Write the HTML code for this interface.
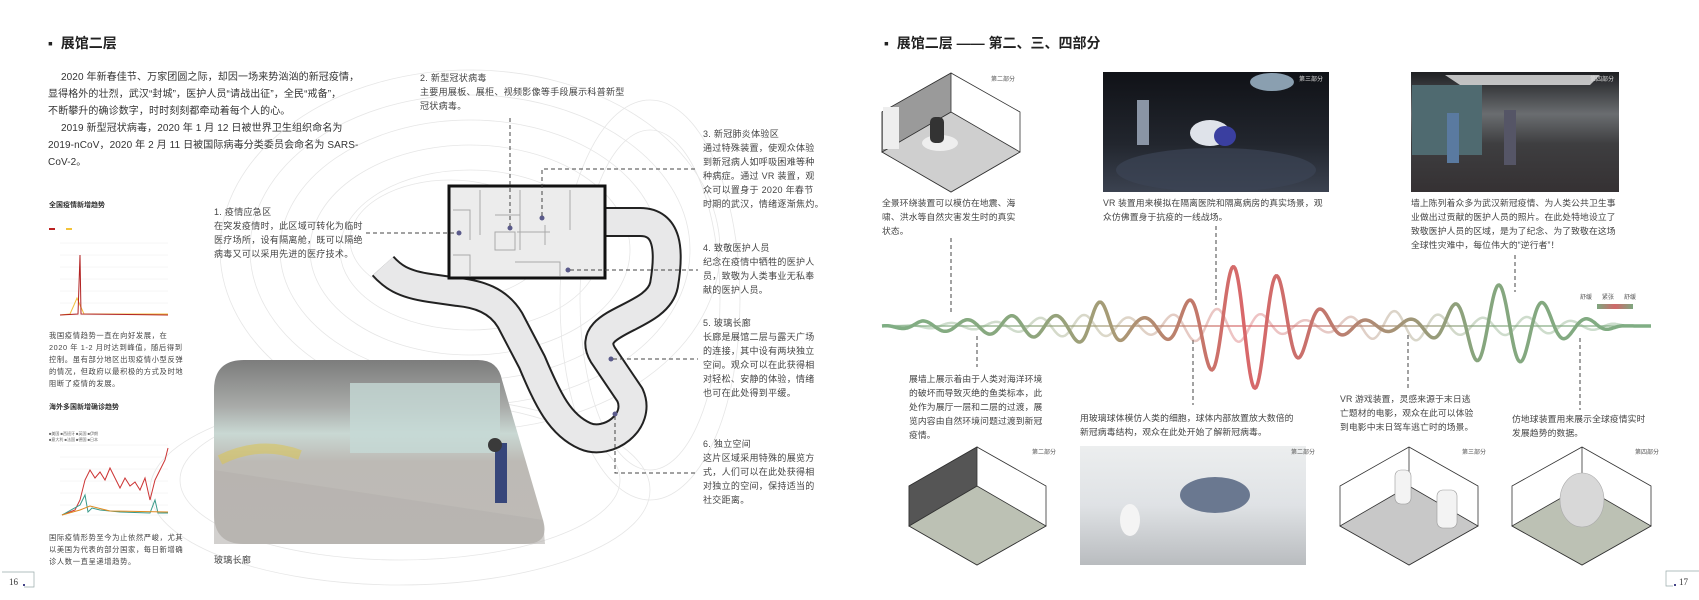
<!DOCTYPE html>
<html><head><meta charset="utf-8">
<style>
*{margin:0;padding:0;box-sizing:border-box}
body{width:1699px;height:600px;background:#fff;position:relative;overflow:hidden;font-family:"Liberation Sans","Noto Sans CJK SC",sans-serif;color:#333}
.t{position:absolute;white-space:nowrap}
.h{font-size:14px;font-weight:bold;color:#222}
.p{font-size:10px;line-height:17px;color:#333;letter-spacing:0.1px}
.s{font-size:9px;line-height:14px;color:#444;letter-spacing:0.3px}
.r{font-size:8.8px;line-height:14px;color:#444;letter-spacing:0.1px}
.xs{font-size:7.3px;line-height:12px;color:#444;letter-spacing:0.6px}
.lab{font-size:6px;color:#555}
svg{position:absolute;left:0;top:0}
</style></head><body>
<svg width="1699" height="600" viewBox="0 0 1699 600">
<defs>
<linearGradient id="wg" gradientUnits="userSpaceOnUse" x1="882" y1="0" x2="1651" y2="0">
<stop offset="0" stop-color="#7fae84"/><stop offset="0.18" stop-color="#8aa77e"/><stop offset="0.3" stop-color="#a89b76"/>
<stop offset="0.4" stop-color="#c07a6a"/><stop offset="0.47" stop-color="#d9676a"/><stop offset="0.55" stop-color="#c9706b"/>
<stop offset="0.66" stop-color="#a89276"/><stop offset="0.78" stop-color="#86a67e"/><stop offset="1" stop-color="#7fae84"/></linearGradient>
<linearGradient id="ph1" x1="0" y1="0" x2="0" y2="1">
<stop offset="0" stop-color="#7c7c7c"/><stop offset="0.25" stop-color="#a8aaa8"/><stop offset="0.4" stop-color="#c9d8d3"/><stop offset="0.55" stop-color="#bdbab5"/><stop offset="1" stop-color="#bebbb7"/></linearGradient>
<linearGradient id="ph2" x1="0" y1="0" x2="0" y2="1">
<stop offset="0" stop-color="#101217"/><stop offset="0.6" stop-color="#22262e"/><stop offset="1" stop-color="#3b4250"/></linearGradient>
<linearGradient id="ph3" x1="0" y1="0" x2="0" y2="1">
<stop offset="0" stop-color="#1e1f22"/><stop offset="0.35" stop-color="#6a6d70"/><stop offset="0.6" stop-color="#3e3e40"/><stop offset="1" stop-color="#353133"/></linearGradient>
<linearGradient id="ph4" x1="0" y1="0" x2="0" y2="1">
<stop offset="0" stop-color="#eceeef"/><stop offset="0.5" stop-color="#dfe2e5"/><stop offset="1" stop-color="#b9bcbf"/></linearGradient>
<linearGradient id="lg" x1="0" x2="1"><stop offset="0" stop-color="#7da77f"/><stop offset="0.5" stop-color="#d0686a"/><stop offset="1" stop-color="#7da77f"/></linearGradient>
</defs>
<!-- contour background -->
<g fill="none" stroke="#e6e6e6" stroke-width="0.8">
<ellipse cx="470" cy="250" rx="250" ry="180"/><ellipse cx="470" cy="250" rx="220" ry="155"/>
<ellipse cx="470" cy="250" rx="190" ry="130"/><ellipse cx="470" cy="250" rx="160" ry="105"/>
<ellipse cx="470" cy="250" rx="130" ry="80"/><ellipse cx="450" cy="240" rx="100" ry="60"/>
<ellipse cx="650" cy="300" rx="90" ry="200"/><ellipse cx="650" cy="300" rx="70" ry="170"/>
<ellipse cx="400" cy="480" rx="220" ry="80"/><ellipse cx="400" cy="490" rx="250" ry="95"/>
</g>
<!-- corridor -->
<path d="M606 222 L640 222 C668 222 670 250 664 285 C657 320 582 320 603 355 L630 395 C642 422 608 446 585 436 C560 425 548 400 532 362 L510 320 C498 300 478 294 458 292 L430 288 C402 284 392 276 383 266" fill="none" stroke="#222" stroke-width="30" stroke-linejoin="round"/>
<path d="M606 222 L640 222 C668 222 670 250 664 285 C657 320 582 320 603 355 L630 395 C642 422 608 446 585 436 C560 425 548 400 532 362 L510 320 C498 300 478 294 458 292 L430 288 C402 284 392 276 383 266" fill="none" stroke="#e8e8e9" stroke-width="26" stroke-linejoin="round"/>
<rect x="449" y="186" width="156" height="92" fill="#ececec" stroke="#111" stroke-width="3"/>
<g stroke="#aaa" stroke-width="1" fill="none">
<path d="M453 210 H470 V240 M480 190 V235 M520 190 V215 M570 190 V230 M495 215 H520 V250 M495 232 H515 V250 H495 Z M517 232 H550 M515 262 H560 V276 M545 225 V245 M453 255 H470 V276"/>
</g>
<g fill="#5a5a8a"><circle cx="459" cy="233" r="2.5"/><circle cx="510" cy="228" r="2.5"/><circle cx="542" cy="218" r="2.5"/><circle cx="568" cy="270" r="2.5"/><circle cx="611" cy="359" r="2.5"/><circle cx="615" cy="414" r="2.5"/></g>
<!-- dashed leaders -->
<g stroke="#444" stroke-width="1" stroke-dasharray="4,3" fill="none">
<path d="M366 233 H456"/><path d="M510 118 V226"/><path d="M542 216 V169 H698"/>
<path d="M570 270 H698"/><path d="M613 359 H698"/><path d="M615 416 V473 H698"/>
<path d="M951 238 V315"/><path d="M1216 226 V305"/><path d="M1515 255 V292"/>
<path d="M977 336 V367"/><path d="M1193 340 V405"/><path d="M1408 335 V388"/><path d="M1580 338 V410"/>
</g>
<!-- left photo -->
<path d="M244 360 L478 360 Q498 360 502 380 L543 520 Q550 544 525 544 L244 544 Q214 544 214 514 L214 390 Q214 360 244 360 Z" fill="url(#ph1)"/>
<path d="M214 470 L543 520 L545 544 L214 544 Z" fill="#b4b1ad" opacity="0.6"/>
<rect x="350" y="383" width="150" height="70" fill="#c6d9d6" opacity="0.8"/>
<path d="M220 460 Q260 440 300 455" stroke="#d9c45a" stroke-width="10" fill="none" opacity="0.6"/>
<rect x="495" y="443" width="12" height="60" fill="#37467a"/><circle cx="495" cy="445" r="7" fill="#3a3a3a"/>
<!-- charts -->
<g stroke="#eee" stroke-width="0.5"><path d="M60 243 H168 M60 255 H168 M60 267 H168 M60 279 H168 M60 291 H168 M60 303 H168 M60 315 H168"/>
<path d="M60 445 H168 M60 457 H168 M60 469 H168 M60 481 H168 M60 493 H168 M60 505 H168 M60 515 H168"/></g>
<rect x="49" y="228" width="6" height="2" fill="#b22"/><rect x="66" y="228" width="6" height="2" fill="#f3c33a"/>
<path d="M60 315 L70 314 L74 305 L77 298 L80 305 L84 314 L168 314" stroke="#f0c040" stroke-width="1" fill="none"/>
<path d="M60 315 L78 314 L80 255 L81 314 L168 315" stroke="#b22222" stroke-width="1" fill="none"/>
<path d="M62 515 L75 510 L80 500 L85 480 L90 470 L95 478 L100 472 L105 480 L110 468 L115 478 L120 488 L125 478 L130 486 L135 482 L140 490 L145 478 L150 500 L155 480 L160 470 L165 460 L168 448" stroke="#cc3333" stroke-width="1" fill="none"/>
<path d="M62 515 L80 505 L85 495 L88 512 L92 508 L100 510 L120 512 L150 513 L155 500 L158 513 L168 513" stroke="#3a9a8a" stroke-width="1" fill="none"/>
<path d="M62 515 L80 510 L90 506 L110 511 L168 512" stroke="#e08a20" stroke-width="1" fill="none"/>
<g font-size="4" fill="#666"><text x="49" y="435">■美国 ■西班牙 ■英国 ■伊朗</text><text x="49" y="441">■意大利 ■法国 ■德国 ■日本</text></g>
<!-- page number boxes -->
<path d="M2 572 H34 V587 H24" stroke="#9aa" fill="none" stroke-width="0.7"/><rect x="23" y="584" width="2" height="2" fill="#448"/>
<path d="M1699 571 H1666 V586 H1673" stroke="#9aa" fill="none" stroke-width="0.7"/><rect x="1674" y="584" width="2" height="2" fill="#448"/>
<!-- top right images -->
<g stroke="#333" stroke-width="0.8">
<path d="M951 73 L1020 112 L1020 152 L951 192 L882 152 L882 112 Z" fill="#fff"/>
<path d="M951 112 L1020 152 L951 192 L882 152 Z" fill="#cfcfcf"/>
<path d="M882 112 L951 73 L951 112 L882 152 Z" fill="#9a9a9a"/>
</g>
<rect x="883" y="107" width="16" height="42" fill="#eee"/>
<ellipse cx="940" cy="143" rx="18" ry="8" fill="#eee"/><rect x="930" y="117" width="14" height="26" rx="5" fill="#333"/>
<rect x="1103" y="72" width="226" height="120" fill="url(#ph2)"/>
<ellipse cx="1216" cy="170" rx="100" ry="22" fill="#3c4556" opacity="0.7"/>
<ellipse cx="1210" cy="133" rx="20" ry="13" fill="#dfe3ea"/><ellipse cx="1225" cy="136" rx="11" ry="10" fill="#3a3fa0"/>
<ellipse cx="1272" cy="82" rx="22" ry="9" fill="#8a9fb0"/>
<rect x="1137" y="100" width="12" height="45" fill="#8a95a5"/>
<rect x="1411" y="72" width="208" height="120" fill="url(#ph3)"/>
<rect x="1412" y="85" width="70" height="70" fill="#4f6a70"/>
<rect x="1504" y="110" width="12" height="55" fill="#556"/><rect x="1447" y="113" width="12" height="50" fill="#5a7aa0"/>
<path d="M1445 75 L1600 75 L1590 85 L1460 85 Z" fill="#e6e6e6" opacity="0.8"/>
<!-- wave -->
<path id="w2" fill="none" stroke="url(#wg)" stroke-width="2.5" opacity="0.4"/>
<path d="M882 326 H1651" stroke="url(#wg)" stroke-width="1.5" opacity="0.8"/>
<path id="w1" fill="none" stroke="url(#wg)" stroke-width="3.5"/>
<rect x="1597" y="304" width="36" height="5" fill="url(#lg)"/>
<!-- bottom cubes -->
<g stroke="#333" stroke-width="0.8">
<path d="M977 447 L1046 486 L1046 526 L977 565 L909 526 L909 486 Z" fill="#fff"/>
<path d="M977 486 L1046 526 L977 565 L909 526 Z" fill="#bcc1b4"/>
<path d="M909 486 L977 447 L977 486 L909 526 Z" fill="#555"/>
<path d="M1409 447 L1478 486 L1478 526 L1409 565 L1340 526 L1340 486 Z" fill="#fff"/>
<path d="M1409 486 L1478 526 L1409 565 L1340 526 Z" fill="#c8c8c8"/>
<path d="M1409 447 V486"/>
<path d="M1582 447 L1651 486 L1651 526 L1582 565 L1512 526 L1512 486 Z" fill="#fff"/>
<path d="M1582 486 L1651 526 L1582 565 L1512 526 Z" fill="#bcc1b4"/>
<path d="M1582 447 V486"/>
</g>
<rect x="1395" y="470" width="16" height="34" rx="6" fill="#f3f3f3" stroke="#999" stroke-width="0.6"/>
<rect x="1437" y="490" width="20" height="38" rx="6" fill="#f3f3f3" stroke="#999" stroke-width="0.6"/>
<ellipse cx="1582" cy="500" rx="22" ry="27" fill="#d8d8d8" stroke="#aaa" stroke-width="0.6"/>
<rect x="1080" y="446" width="226" height="119" fill="url(#ph4)"/>
<ellipse cx="1215" cy="495" rx="35" ry="18" fill="#6a7890"/>
<ellipse cx="1130" cy="520" rx="10" ry="16" fill="#f4f4f4"/>
</svg>

<div class="t h" style="left:48px;top:33px">▪&nbsp; 展馆二层</div>
<div class="t p" style="left:48px;top:69px">&emsp;&nbsp;2020 年新春佳节、万家团圆之际，却因一场来势汹汹的新冠疫情，<br>显得格外的壮烈，武汉“封城”，医护人员“请战出征”，全民“戒备”，<br>不断攀升的确诊数字，时时刻刻都牵动着每个人的心。<br>&emsp;&nbsp;2019 新型冠状病毒，2020 年 1 月 12 日被世界卫生组织命名为<br>2019-nCoV，2020 年 2 月 11 日被国际病毒分类委员会命名为 SARS-<br>CoV-2。</div>
<div class="t" style="left:49px;top:200px;font-size:7px;font-weight:bold">全国疫情新增趋势</div>
<div class="t xs" style="left:49px;top:330px">我国疫情趋势一直在向好发展，在<br>2020 年 1-2 月时达到峰值，随后得到<br>控制。虽有部分地区出现疫情小型反弹<br>的情况，但政府以最积极的方式及时地<br>阻断了疫情的发展。</div>
<div class="t" style="left:49px;top:402px;font-size:7px;font-weight:bold">海外多国新增确诊趋势</div>
<div class="t xs" style="left:49px;top:532px">国际疫情形势至今为止依然严峻，尤其<br>以美国为代表的部分国家，每日新增确<br>诊人数一直呈递增趋势。</div>
<div class="t" style="left:9px;top:577px;font-size:9px;font-family:'Liberation Serif',serif">16</div>
<div class="t" style="left:1679px;top:577px;font-size:9px;font-family:'Liberation Serif',serif">17</div>
<div class="t s" style="left:214px;top:553px">玻璃长廊</div>

<div class="t s" style="left:214px;top:205px">1. 疫情应急区<br>在突发疫情时，此区域可转化为临时<br>医疗场所，设有隔离舱，既可以隔绝<br>病毒又可以采用先进的医疗技术。</div>
<div class="t s" style="left:420px;top:71px">2. 新型冠状病毒<br>主要用展板、展柜、视频影像等手段展示科普新型<br>冠状病毒。</div>
<div class="t s" style="left:703px;top:127px">3. 新冠肺炎体验区<br>通过特殊装置，使观众体验<br>到新冠病人如呼吸困难等种<br>种病症。通过 VR 装置，观<br>众可以置身于 2020 年春节<br>时期的武汉，情绪逐渐焦灼。</div>
<div class="t s" style="left:703px;top:241px">4. 致敬医护人员<br>纪念在疫情中牺牲的医护人<br>员，致敬为人类事业无私奉<br>献的医护人员。</div>
<div class="t s" style="left:703px;top:316px">5. 玻璃长廊<br>长廊是展馆二层与露天广场<br>的连接，其中设有两块独立<br>空间。观众可以在此获得相<br>对轻松、安静的体验，情绪<br>也可在此处得到平缓。</div>
<div class="t s" style="left:703px;top:437px">6. 独立空间<br>这片区域采用特殊的展览方<br>式，人们可以在此处获得相<br>对独立的空间，保持适当的<br>社交距离。</div>

<div class="t h" style="left:884px;top:33px">▪&nbsp; 展馆二层 —— 第二、三、四部分</div>
<div class="t lab" style="left:991px;top:74px">第二部分</div>
<div class="t lab" style="left:1299px;top:74px;color:#ddd">第三部分</div>
<div class="t lab" style="left:1590px;top:74px;color:#ddd">第四部分</div>
<div class="t r" style="left:882px;top:196px">全景环绕装置可以模仿在地震、海<br>啸、洪水等自然灾害发生时的真实<br>状态。</div>
<div class="t r" style="left:1103px;top:196px">VR 装置用来模拟在隔离医院和隔离病房的真实场景，观<br>众仿佛置身于抗疫的一线战场。</div>
<div class="t r" style="left:1411px;top:196px">墙上陈列着众多为武汉新冠疫情、为人类公共卫生事<br>业做出过贡献的医护人员的照片。在此处特地设立了<br>致敬医护人员的区域，是为了纪念、为了致敬在这场<br>全球性灾难中，每位伟大的“逆行者”！</div>
<div class="t lab" style="left:1580px;top:292px">舒缓&nbsp;&nbsp;&nbsp;&nbsp;&nbsp;&nbsp;紧张&nbsp;&nbsp;&nbsp;&nbsp;&nbsp;&nbsp;舒缓</div>
<div class="t r" style="left:909px;top:372px">展墙上展示着由于人类对海洋环境<br>的破坏而导致灭绝的鱼类标本，此<br>处作为展厅一层和二层的过渡，展<br>览内容由自然环境问题过渡到新冠<br>疫情。</div>
<div class="t r" style="left:1080px;top:411px">用玻璃球体模仿人类的细胞，球体内部放置放大数倍的<br>新冠病毒结构，观众在此处开始了解新冠病毒。</div>
<div class="t r" style="left:1340px;top:392px">VR 游戏装置，灵感来源于末日逃<br>亡题材的电影，观众在此可以体验<br>到电影中末日驾车逃亡时的场景。</div>
<div class="t r" style="left:1512px;top:412px">仿地球装置用来展示全球疫情实时<br>发展趋势的数据。</div>
<div class="t lab" style="left:1032px;top:447px">第二部分</div>
<div class="t lab" style="left:1291px;top:447px">第二部分</div>
<div class="t lab" style="left:1462px;top:447px">第三部分</div>
<div class="t lab" style="left:1635px;top:447px">第四部分</div>
<script>
function g(x,c,w){return Math.exp(-Math.pow((x-c)/w,2));}
function A(x){var base=5*Math.min(1,Math.max(0,(x-882)/40))*Math.min(1,Math.max(0,(1625-x)/30));
return base+58*g(x,1248,58)+36*g(x,1500,52)+18*g(x,1100,25)+6*g(x,1030,50);}
function B(x){return 3*Math.min(1,Math.max(0,(x-900)/40))*Math.min(1,Math.max(0,(1635-x)/30))+14*g(x,1220,60)+12*g(x,1400,60)+6*g(x,1520,50)+8*g(x,1080,60);}
function mk(f,shift){var d='';for(var x=882;x<=1651;x+=1){var y=326-f(x)*Math.cos(2*Math.PI*(x-1233+shift)/44.3);d+=(x==882?'M':'L')+x+' '+y.toFixed(1)+' ';}return d;}
document.getElementById('w1').setAttribute('d',mk(A,0));
document.getElementById('w2').setAttribute('d',mk(B,16));
</script>
</body></html>
